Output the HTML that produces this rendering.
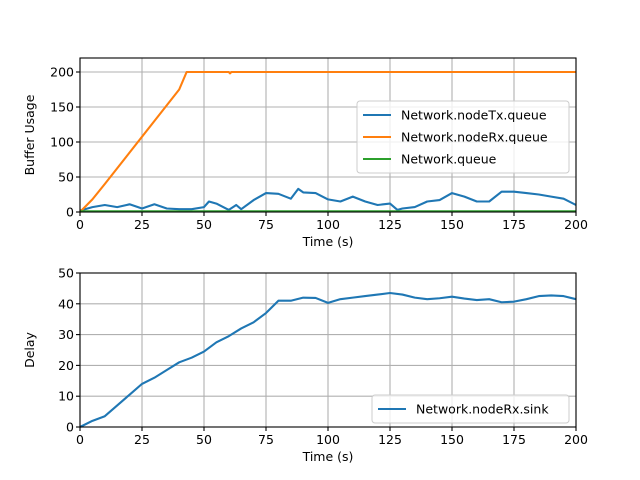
<!DOCTYPE html>
<html><head><meta charset="utf-8"><style>
body{margin:0;background:#fff}
svg{display:block;font-family:"DejaVu Sans","Liberation Sans",sans-serif}
</style></head><body>
<svg id="c" width="640" height="480"></svg>
<script>
const tT=[0,5,10,15,20,25,30,35,40,45,50,52,55,60,63,65,70,75,80,85,88,90,95,100,105,110,115,120,125,128,130,135,140,145,150,155,160,165,170,175,180,185,190,195,200];
const txVals=[2,7,10,7,11,5,11,5,4,4,7,15,12,3,10,4,17,27,26,19,33,28,27,18,15,22,15,10,12,3,5,7,15,17,27,22,15,15,29,29,27,25,22,19,10];
const rxT=[0,5,10,20,30,40,43,60,60.5,61,200];
const rxVals=[0,18,40,85,130,175,200,200,198,200,200];
const qT=[0,200];
const qVals=[1,1];
const dT=[0,5,10,15,20,25,30,35,40,45,50,55,60,65,70,75,80,85,90,95,100,105,110,115,120,125,130,135,140,145,150,155,160,165,170,175,180,185,190,195,200];
const dVals=[0,2,3.5,7,10.5,14,16,18.5,21,22.5,24.5,27.5,29.5,32,34,37,41,41,42,41.9,40.3,41.5,42,42.5,43,43.5,43,42,41.5,41.8,42.3,41.7,41.2,41.5,40.5,40.7,41.5,42.5,42.7,42.5,41.5];
const xTicks=[0,25,50,75,100,125,150,175,200];
const topTicks=[0,50,100,150,200];
const botTicks=[0,10,20,30,40,50];
const svg=document.getElementById('c');
const NS='http://www.w3.org/2000/svg';
function mk(t,a,p){const e=document.createElementNS(NS,t);for(const k in a)e.setAttribute(k,a[k]);(p||svg).appendChild(e);return e;}
function panel(top,bot,ymax,yTicks,ylab,series,name){
 const L=80,R=576;
 const sx=v=>L+(v/200)*(R-L), sy=v=>bot-(v/ymax)*(bot-top);
 const g=mk('g',{});
 
 
 xTicks.forEach(t=>{mk('line',{x1:sx(t),x2:sx(t),y1:top,y2:bot,stroke:'#b0b0b0','stroke-width':1.1},g);
  mk('line',{x1:sx(t),x2:sx(t),y1:bot,y2:bot+4,stroke:'#000','stroke-width':1.1},g);
  const tx=mk('text',{x:sx(t),y:bot+17,'text-anchor':'middle','font-size':'12.5'},g);tx.textContent=t;
  });
 yTicks.forEach(t=>{mk('line',{x1:L,x2:R,y1:sy(t),y2:sy(t),stroke:'#b0b0b0','stroke-width':1.1},g);
  mk('line',{x1:L-4,x2:L,y1:sy(t),y2:sy(t),stroke:'#000','stroke-width':1.1},g);
  const tx=mk('text',{x:L-6,y:sy(t)+4.5,'text-anchor':'end','font-size':'12.5'},g);tx.textContent=t;
  });
 series.forEach(s=>{const p=mk('polyline',{points:s.t.map((t,i)=>sx(t)+','+sy(s.v[i])).join(' '),fill:'none',stroke:s.c,'stroke-width':2.1,'stroke-linejoin':'round'},g);
  });
 mk('rect',{x:L,y:top,width:R-L,height:bot-top,fill:'none',stroke:'#000','stroke-width':1.1},g);
 const xl=mk('text',{x:(L+R)/2,y:bot+34,'text-anchor':'middle','font-size':'12.5'},g);xl.textContent='Time (s)';
 
 const yl=mk('text',{x:0,y:0,'text-anchor':'middle','font-size':'12.5',transform:`translate(${L-46},${(top+bot)/2}) rotate(-90)`},g);yl.textContent=ylab;
 
}
panel(58,212,220,topTicks,'Buffer Usage',[{t:tT,v:txVals,c:'#1f77b4',n:'series-nodetx-queue'},{t:rxT,v:rxVals,c:'#ff7f0e',n:'series-noderx-queue'},{t:qT,v:qVals,c:'#2ca02c',n:'series-network-queue'}],'top-panel');
panel(273,427,50,botTicks,'Delay',[{t:dT,v:dVals,c:'#1f77b4',n:'series-noderx-sink'}],'bottom-panel');
function legend(x,y,w,items,name){
 const g=mk('g',{});
 
 
 mk('rect',{x:x,y:y,width:w,height:items.length*22+6,rx:3,fill:'#fff','fill-opacity':0.8,stroke:'#ccc'},g);
 items.forEach((it,i)=>{const cy=y+14+i*22;
  mk('line',{x1:x+6,x2:x+34,y1:cy,y2:cy,stroke:it[1],'stroke-width':2.1},g);
  const t=mk('text',{x:x+44,y:cy+4.5,'font-size':'12.5'},g);t.textContent=it[0];
  });
}
legend(357,101,212,[['Network.nodeTx.queue','#1f77b4'],['Network.nodeRx.queue','#ff7f0e'],['Network.queue','#2ca02c']],'top-legend');
legend(372,395,197,[['Network.nodeRx.sink','#1f77b4']],'bottom-legend');
</script>
</body></html>
